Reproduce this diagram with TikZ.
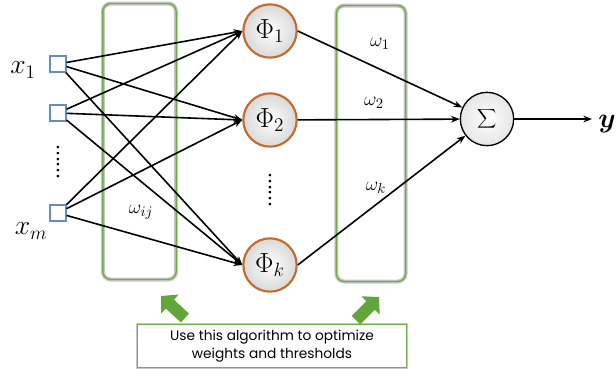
\documentclass[tikz,border=0pt]{standalone}
\usepackage{fontspec}
\usepackage{bm}
\newfontfamily\notefont{Poppins}
\usetikzlibrary{arrows.meta}
\definecolor{wgreen}{RGB}{112,173,71}
\definecolor{agreen}{RGB}{98,165,58}
\definecolor{phiorange}{RGB}{196,106,42}
\definecolor{inblue}{RGB}{100,140,200}

\begin{document}
\begin{tikzpicture}[x=0.75pt,y=-0.75pt,
        inp/.style={draw=inblue,rectangle,fill=white,thick,minimum size=12pt,inner sep=0pt},
        phi/.style={draw=phiorange,circle,line width=1.6pt,minimum size=40pt,inner sep=0pt,shading=radial,inner color=white,outer color=gray!30,font=\fontsize{21}{24}\selectfont},
        sig/.style={draw=black,circle,line width=1pt,minimum size=40pt,inner sep=0pt,shading=radial,inner color=white,outer color=gray!20,font=\fontsize{17}{20}\selectfont},
        wbox/.style={draw=wgreen,rectangle,rounded corners=6pt,line width=1pt,preaction={draw=gray!45,line width=3pt}},
        note/.style={draw=wgreen,rectangle,fill=white,line width=0.7pt,preaction={draw=gray!45,line width=2.5pt},minimum width=202pt,minimum height=32pt,align=center,font=\notefont\fontsize{10.3}{13}\selectfont},
        lbl/.style={font=\fontsize{21}{24}\selectfont},
        wlbl/.style={font=\fontsize{15}{18}\selectfont},
        vdots/.style={rotate=90,inner sep=0pt,font=\bfseries\fontsize{14}{16}\selectfont},
        con/.style={-{Stealth[length=6.5pt,width=5pt]},line width=1.2pt},
        garrow/.style={agreen,line width=9pt,-{Triangle[length=9pt,width=19pt]}}
      ]
      \useasboundingbox (0,0) rectangle (616,375);
      \node[wbox,minimum width=55pt,minimum height=207pt] (lbox) at (139.5,141.5) {};
      \node[wbox,minimum width=52pt,minimum height=207pt] (rbox) at (371,143.5) {};
      \node[inp] (in1) at (58,64) {};
      \node[inp] (in2) at (58,113) {};
      \node[inp] (inm) at (58,213) {};
      \node[vdots] (dotsin) at (58,162) {......};
      \node[lbl] (x1) at (23,70) {$x_1$};
      \node[lbl] (xm) at (31,231) {$x_m$};
      \node[phi] (phi1) at (270,31) {$\Phi_1$};
      \node[phi] (phi2) at (270,120) {$\Phi_2$};
      \node[phi] (phik) at (270,265) {$\Phi_k$};
      \node[vdots] (dotsphi) at (270,190) {......};
      \node[sig] (sum) at (487,119) {$\displaystyle\sum$};
      \coordinate (out) at (592,119);
      \node[lbl] (y) at (607,124) {$\bm{y}$};
      \node[wlbl] (wij) at (141,212) {$\omega_{ij}$};
      \node[wlbl] (w1) at (380,44) {$\omega_1$};
      \node[wlbl] (w2) at (374,103) {$\omega_2$};
      \node[wlbl] (wk) at (376,188) {$\omega_k$};
      \foreach \i in {in1,in2,inm}
        \foreach \j in {phi1,phi2,phik}
          \draw[con] (\i) -- (\j.west);
      \draw[con] (phi1.east) -- (sum);
      \draw[con] (phi2) -- (sum);
      \draw[con] (phik.east) -- (sum);
      \draw[con] (sum) -- (out);
      \node[note] (alg) at (272,346) {Use this algorithm to optimize\\weights and thresholds};
      \coordinate (ga1) at (185,318);
      \coordinate (gb1) at (161,296);
      \coordinate (ga2) at (356,320);
      \coordinate (gb2) at (379,297);
      \draw[garrow] (ga1) -- (gb1);
      \draw[garrow] (ga2) -- (gb2);
    \end{tikzpicture}
\end{document}
